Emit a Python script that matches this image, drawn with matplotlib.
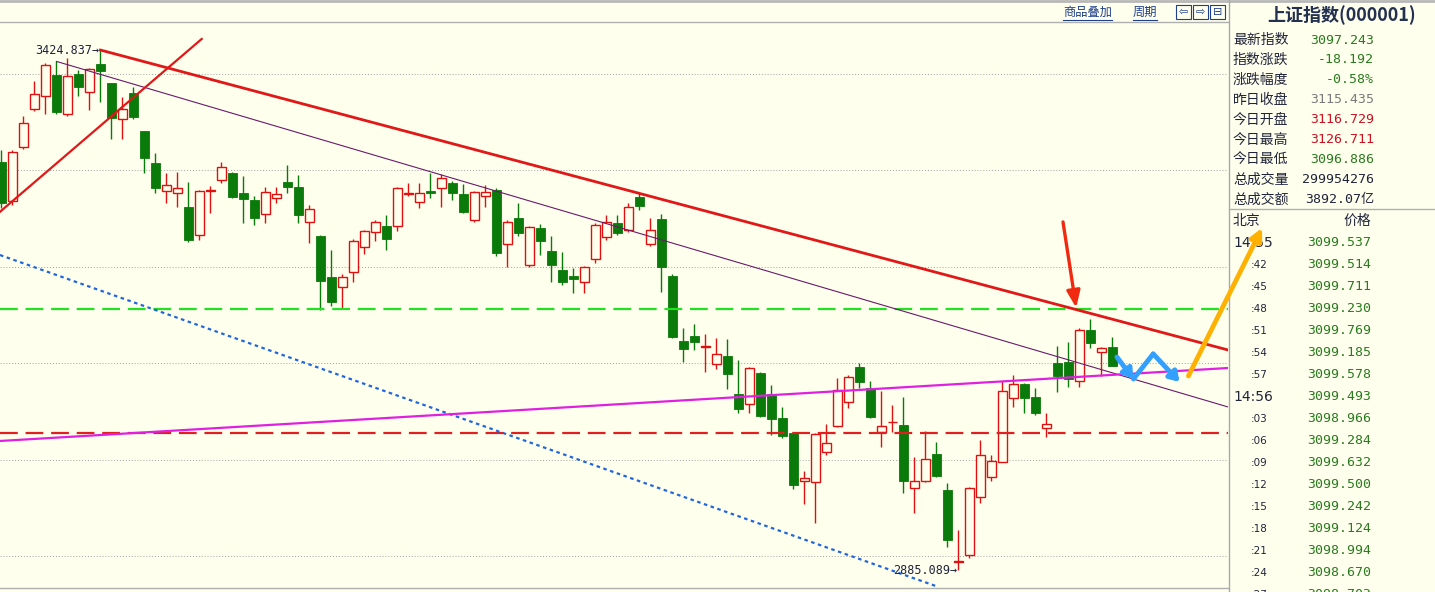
import numpy as np
import matplotlib
matplotlib.use('Agg')
import matplotlib.pyplot as plt
from matplotlib.patches import Rectangle

plt.rcParams['font.family'] = ['Noto Sans CJK SC', 'DejaVu Sans']

# daily candles of the index (open, high, low, close)
opens = [3309, 3268, 3324, 3364, 3377, 3399, 3358, 3400, 3381, 3410,
         3391, 3353, 3380, 3341, 3308, 3279, 3277, 3262, 3233, 3278.5,
         3290, 3297, 3277, 3269, 3255, 3271, 3288, 3283, 3246, 3232,
         3189, 3179, 3195, 3220, 3236, 3242, 3242, 3275.5, 3267, 3279,
         3282, 3287, 3276, 3249, 3273, 3280, 3224, 3251, 3202, 3240,
         3216, 3197, 3190, 3184, 3208, 3231, 3245, 3238, 3272, 3224,
         3250, 3190, 3123, 3128, 3116.5, 3099, 3107, 3068, 3058, 3090,
         3068, 3043, 3028, 2978, 2977, 3008, 3035, 3060, 3096, 3074,
         3029, 3038.5, 3036, 2971, 2978, 3006, 2968, 2894, 2901, 2961,
         2982, 2997.5, 3064, 3078, 3065, 3033, 3100, 3101, 3082, 3134,
         3112, 3116.729]
highs = [3321, 3321, 3356, 3393, 3411, 3413, 3417, 3404, 3406, 3424.837,
         3391, 3376, 3386, 3341, 3318, 3297, 3298, 3288, 3280, 3284,
         3309, 3298, 3294, 3273, 3283, 3283, 3306, 3295, 3264, 3233,
         3217, 3192, 3229, 3238, 3249, 3254, 3283, 3287, 3287, 3297,
         3296, 3289, 3286, 3279, 3285, 3282, 3249, 3266, 3242, 3244,
         3232, 3215, 3199, 3201, 3245, 3254, 3254, 3266, 3278, 3251,
         3255, 3193, 3137, 3141, 3130, 3126, 3125, 3103, 3096, 3091,
         3077, 3055, 3029, 2988, 3028, 3037, 3085, 3088, 3100, 3082,
         3071, 3057, 3065, 3003, 3030, 3018, 2976, 2927, 2972, 3020,
         3005, 3081, 3088, 3079, 3074, 3048, 3118, 3122, 3137, 3146,
         3116.5, 3126.711]
lows = [3261, 3264, 3322, 3362, 3358, 3358, 3356, 3377, 3363, 3371,
        3333, 3333, 3353, 3297, 3277, 3266, 3262, 3226, 3228, 3256,
        3287, 3271, 3245, 3243, 3245, 3266, 3277, 3245, 3225, 3155,
        3159, 3156, 3184, 3213, 3227, 3217, 3237, 3273, 3261, 3271,
        3262, 3269, 3256, 3246, 3262, 3211, 3200, 3232, 3200, 3212,
        3184, 3181, 3173, 3173, 3204, 3228, 3233, 3236, 3259, 3222,
        3174, 3126, 3101, 3114, 3091, 3094, 3073, 3048, 3048, 3044,
        3025, 3022, 2970, 2954, 2934, 3005, 3034, 3053, 3074, 3043,
        3013, 3029, 2965, 2945, 2977, 2982, 2909, 2885.089, 2898, 2955,
        2978, 2997, 3055, 3048, 3046, 3023, 3070, 3075, 3075, 3116,
        3087, 3096.886]
closes = [3266, 3319, 3349, 3379, 3409, 3361, 3398, 3386, 3405, 3403,
          3354, 3364, 3355, 3313, 3282, 3285, 3282, 3228, 3279, 3279.5,
          3304, 3272, 3270, 3251, 3278, 3276, 3283, 3254, 3260, 3185,
          3163, 3189, 3227, 3237, 3246, 3229, 3282, 3276.5, 3277, 3277,
          3292, 3277, 3257, 3278, 3278, 3214, 3246, 3235, 3241, 3227,
          3202, 3184, 3187, 3200, 3243, 3246, 3235, 3262, 3263, 3238,
          3200, 3127, 3115, 3122, 3117.5, 3110, 3089, 3052, 3095, 3045,
          3042, 3024, 2974, 2981, 3027, 3017, 3072, 3086, 3080, 3044,
          3035, 3039.5, 2978, 2978, 3001, 2983, 2917, 2895, 2971, 3005,
          2999, 3071, 3078, 3064, 3048, 3037, 3087, 3084, 3134.5, 3121,
          3115.4, 3097.243]

# price grid and marked extremes
grid_levels = [3400, 3300, 3200, 3100, 3000, 2900]
high_mark = (9, 3424.837)
low_mark = (87, 2885.089)

# hand drawn lines: (x index, price) for start and end
red_trend = [(9, 3424.8), (111.5, 3113.7)]
purple_trend = [(5, 3413.0), (111.5, 3054.6)]
red_rise = [(-0.14, 3257.0), (18.2, 3436.3)]
blue_dotted = [(-0.14, 3212.2), (84.9, 2869.0)]
magenta_line = [(-0.14, 3019.3), (111.5, 3095.0)]
green_level = 3156.2
red_level = 3027.6

# arrows drawn on the chart
red_arrow = [(96.5, 3246.5), (97.7, 3157.5)]
blue_zigzag = [(101.4, 3106.4), (102.9, 3083.6), (104.7, 3109.6), (107.1, 3080.5)]
orange_arrow = [(107.9, 3086.7), (114.6, 3240.3)]

# quote panel on the right
quote_title = '上证指数(000001)'
quote_names = ['最新指数', '指数涨跌', '涨跌幅度', '昨日收盘', '今日开盘',
               '今日最高', '今日最低', '总成交量', '总成交额']
quote_values = ['3097.243', '-18.192', '-0.58%', '3115.435', '3116.729',
                '3126.711', '3096.886', '299954276', '3892.07亿']
quote_colors = ['#2a7a1e', '#2a7a1e', '#2a7a1e', '#7a7a7a', '#cc1020',
                '#cc1020', '#2a7a1e', '#20243a', '#20243a']
tick_times = ['14:55', ':42', ':45', ':48', ':51', ':54', ':57', '14:56', ':03',
              ':06', ':09', ':12', ':15', ':18', ':21', ':24', ':27']
tick_prices = ['3099.537', '3099.514', '3099.711', '3099.230', '3099.769',
               '3099.185', '3099.578', '3099.493', '3098.966', '3099.284',
               '3099.632', '3099.500', '3099.242', '3099.124', '3098.994',
               '3098.670', '3098.703']

bg_color = '#ffffee'
up_color = '#e01010'
down_color = '#0a7a0a'
text_dark = '#20243a'
W, H = 1435, 592

fig = plt.figure(figsize=(W / 100, H / 100), dpi=100, facecolor=bg_color)

# background axes in pixel units for the frame and the quote panel
bg = fig.add_axes([0, 0, 1, 1])
bg.set_xlim(0, W)
bg.set_ylim(H, 0)
bg.axis('off')
bg.set_facecolor(bg_color)
bg.plot([0, W], [1, 1], color='#b8b8b8', lw=2)
bg.plot([1228.5, 1228.5], [0, H], color='#a8a8a8', lw=1)
bg.plot([1229, W], [209, 209], color='#b0b0b0', lw=1)

# toolbar links and buttons
link_color = '#1f3f8f'
bg.text(1063, 12, '商品叠加', fontsize=8.8, color=link_color, va='center')
bg.plot([1063, 1112], [20, 20], color=link_color, lw=0.8)
bg.text(1133, 12, '周期', fontsize=8.8, color=link_color, va='center')
bg.plot([1133, 1157], [20, 20], color=link_color, lw=0.8)
for bx, sym in zip([1176, 1193, 1210], ['⇦', '⇨', '⊟']):
    bg.add_patch(Rectangle((bx, 5), 15, 14, fill=False, ec=link_color, lw=0.8))
    bg.text(bx + 7.5, 12, sym, fontsize=8, color=link_color, ha='center',
            va='center', family='DejaVu Sans')

# quote panel text
bg.text(1342, 15, quote_title, fontsize=13, fontweight='bold', color='#233050',
        ha='center', va='center')
for k, (name, val, col) in enumerate(zip(quote_names, quote_values, quote_colors)):
    yy = 40 + 19.95 * k
    bg.text(1233, yy, name, fontsize=10, color=text_dark, va='center')
    bg.text(1374, yy, val, fontsize=9.5, color=col, ha='right', va='center',
            family=['DejaVu Sans Mono', 'Noto Sans CJK SC'])

bg.text(1233, 221, '北京', fontsize=10, color=text_dark, va='center')
bg.text(1371, 221, '价格', fontsize=10, color=text_dark, ha='right', va='center')
for k, (t, p) in enumerate(zip(tick_times, tick_prices)):
    yy = 243 + 22 * k
    if len(t) > 3:
        bg.text(1233, yy, t, fontsize=10, color=text_dark, va='center',
                family='DejaVu Sans')
    else:
        bg.text(1251, yy, t, fontsize=7.5, color=text_dark, va='center',
                family='DejaVu Sans')
    bg.text(1371, yy, p, fontsize=9.5, color='#2a7a1e', ha='right',
            va='center', family='DejaVu Sans Mono')

# main candlestick chart
ax = fig.add_axes([0, 4 / H, 1228 / W, 566 / H])
ax.set_facecolor(bg_color)
ax.set_zorder(3)
ax.set_xlim(-0.136, 111.5)
ax.set_ylim(2866.8, 3453.9)
ax.set_xticks([])
ax.set_yticks([])
for side in ['left', 'right']:
    ax.spines[side].set_visible(False)
for side in ['top', 'bottom']:
    ax.spines[side].set_color('#b0b0b0')
    ax.spines[side].set_linewidth(1)

for lv in grid_levels:
    ax.axhline(lv, color='#a0a0a0', lw=0.7, ls=(0, (1, 2)), zorder=1)

o = np.array(opens, dtype=float)
h = np.array(highs, dtype=float)
l = np.array(lows, dtype=float)
c = np.array(closes, dtype=float)
x = np.arange(len(o))
up = c >= o
dn = ~up

ax.vlines(x[up], l[up], h[up], color=up_color, lw=1, zorder=2)
ax.vlines(x[dn], l[dn], h[dn], color=down_color, lw=1, zorder=2)
ax.bar(x[up], np.maximum(c[up] - o[up], 0.8), bottom=o[up], width=0.74,
       facecolor=bg_color, edgecolor=up_color, linewidth=1, zorder=3)
ax.bar(x[dn], o[dn] - c[dn], bottom=c[dn], width=0.74,
       facecolor=down_color, edgecolor=down_color, linewidth=0.6, zorder=3)

# drawn lines
ax.axhline(green_level, color='#22e022', lw=1.6, ls=(0, (8, 3.5)), zorder=4)
ax.axhline(red_level, color='#e02020', lw=1.6, ls=(0, (8, 3.5)), zorder=4)
for seg, col, lw, ls in [(red_trend, '#e01818', 2.0, '-'),
                         (purple_trend, '#6a1a6a', 0.8, '-'),
                         (red_rise, '#e01818', 1.6, '-'),
                         (blue_dotted, '#2266dd', 1.6, (0, (1.6, 1.6))),
                         (magenta_line, '#e020e0', 1.6, '-')]:
    xs, ys = zip(*seg)
    ax.plot(xs, ys, color=col, lw=lw, ls=ls, zorder=5)

# extreme price labels
ax.text(high_mark[0] - 0.1, high_mark[1], f'{high_mark[1]:.3f}→', fontsize=8.5,
        color=text_dark, ha='right', va='center', family='DejaVu Sans Mono',
        zorder=6)
ax.text(low_mark[0] - 0.1, low_mark[1], f'{low_mark[1]:.3f}→', fontsize=8.5,
        color=text_dark, ha='right', va='center', family='DejaVu Sans Mono',
        zorder=6)

# arrows
ax.annotate('', xy=red_arrow[1], xytext=red_arrow[0],
            arrowprops=dict(arrowstyle='-|>,head_length=1.0,head_width=0.4',
                            color='#f02a10', lw=2.4, shrinkA=0, shrinkB=0),
            zorder=7)
blue_style = dict(color='#33a0ff', lw=3.5, shrinkA=0, shrinkB=0)
ax.annotate('', xy=blue_zigzag[1], xytext=blue_zigzag[0],
            arrowprops=dict(arrowstyle='-|>,head_length=0.55,head_width=0.35',
                            **blue_style), zorder=7)
ax.plot([blue_zigzag[1][0], blue_zigzag[2][0]], [blue_zigzag[1][1], blue_zigzag[2][1]],
        color='#33a0ff', lw=3.5, solid_capstyle='round', zorder=7)
ax.annotate('', xy=blue_zigzag[3], xytext=blue_zigzag[2],
            arrowprops=dict(arrowstyle='-|>,head_length=0.55,head_width=0.35',
                            **blue_style), zorder=7)
ax.annotate('', xy=orange_arrow[1], xytext=orange_arrow[0],
            arrowprops=dict(arrowstyle='-|>,head_length=0.7,head_width=0.35',
                            color='#ffb000', lw=3.4, shrinkA=0, shrinkB=0),
            annotation_clip=False, zorder=8)

fig.savefig('out.png', dpi=100, facecolor=bg_color)
